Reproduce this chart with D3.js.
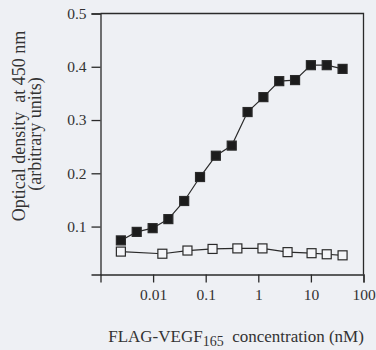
<!DOCTYPE html>
<html>
<head>
<meta charset="utf-8">
<script src="https://cdn.jsdelivr.net/npm/d3@7"></script>
<style>
    html, body { margin: 0; padding: 0; background: #eef0f4; }
    svg { display: block; }
    text { font-family: "Liberation Serif", "DejaVu Serif", serif; fill: #333; }
</style>
</head>
<body>
<div id="chart"></div>
<script>
// filled squares (FLAG-VEGF165 binding)
const boundConc = [0.00244, 0.00488, 0.0098, 0.0195, 0.039, 0.078, 0.156, 0.3125, 0.625, 1.25, 2.5, 5, 10, 20, 40];
const boundOD = [0.074, 0.090, 0.097, 0.114, 0.148, 0.193, 0.233, 0.252, 0.315, 0.343, 0.373, 0.375, 0.403, 0.403, 0.396];

// open squares (control)
const controlConc = [0.00244, 0.015, 0.045, 0.135, 0.4, 1.2, 3.6, 10.3, 20, 40];
const controlOD = [0.053, 0.049, 0.055, 0.058, 0.059, 0.059, 0.052, 0.050, 0.048, 0.046];

const xTicks = [0.01, 0.1, 1, 10, 100];
const xTickLabels = ['0.01', '0.1', '1', '10', '100'];
const yTicks = [0.1, 0.2, 0.3, 0.4, 0.5];

const width = 376;
const height = 350;
const margin = { top: 13.5, right: 12.5, bottom: 75.5, left: 100.5 };
const ink = '#2a2a2a';

const svg = d3.select('#chart')
    .append('svg')
    .attr('width', width)
    .attr('height', height);

const x = d3.scaleLog()
    .domain([0.001, 100])
    .range([margin.left, width - margin.right]);

const y = d3.scaleLinear()
    .domain([0.01, 0.5])
    .range([height - margin.bottom, margin.top]);

// frame (top and right)
svg.append('path')
    .attr('d', `M${x.range()[0]},${y.range()[1]}H${x.range()[1]}V${y.range()[0]}`)
    .attr('fill', 'none')
    .attr('stroke', ink)
    .attr('stroke-width', 1.3);

// x axis
const xAxis = svg.append('g')
    .attr('transform', `translate(0,${y.range()[0]})`)
    .call(d3.axisBottom(x)
        .tickValues(xTicks)
        .tickFormat((d, i) => xTickLabels[i])
        .tickSizeOuter(0)
        .tickSize(8)
        .tickPadding(6));

// y axis
const yAxis = svg.append('g')
    .attr('transform', `translate(${x.range()[0]},0)`)
    .call(d3.axisLeft(y)
        .tickValues(yTicks)
        .tickFormat(d3.format('.1f'))
        .tickSizeOuter(0)
        .tickSize(9)
        .tickPadding(5));

[xAxis, yAxis].forEach((g) => {
    g.select('.domain').attr('stroke', ink).attr('stroke-width', 1.3);
    g.selectAll('.tick line').attr('stroke', ink).attr('stroke-width', 1.3);
    g.selectAll('.tick text')
        .attr('fill', '#333')
        .style('font-family', '"Liberation Serif", serif')
        .style('font-size', '15.5px');
});

// lines
const line = d3.line()
    .x((d) => x(d[0]))
    .y((d) => y(d[1]));

const bound = d3.zip(boundConc, boundOD);
const control = d3.zip(controlConc, controlOD);

svg.append('path')
    .datum(control)
    .attr('d', line)
    .attr('fill', 'none')
    .attr('stroke', ink)
    .attr('stroke-width', 1.2);

svg.append('path')
    .datum(bound)
    .attr('d', line)
    .attr('fill', 'none')
    .attr('stroke', ink)
    .attr('stroke-width', 1.2);

const s = 9;

svg.append('g')
    .selectAll('rect')
    .data(control)
    .enter()
    .append('rect')
    .attr('x', (d) => x(d[0]) - s / 2)
    .attr('y', (d) => y(d[1]) - s / 2)
    .attr('width', s)
    .attr('height', s)
    .attr('fill', '#f4f5f8')
    .attr('stroke', ink)
    .attr('stroke-width', 1.2);

svg.append('g')
    .selectAll('rect')
    .data(bound)
    .enter()
    .append('rect')
    .attr('x', (d) => x(d[0]) - s / 2)
    .attr('y', (d) => y(d[1]) - s / 2)
    .attr('width', s)
    .attr('height', s)
    .attr('fill', '#1c1c1c')
    .attr('stroke', ink)
    .attr('stroke-width', 1.2);

// y axis title
svg.append('text')
    .attr('transform', 'translate(25,126) rotate(-90)')
    .attr('text-anchor', 'middle')
    .style('font-size', '18px')
    .text('Optical density\u00a0 at 450 nm');
svg.append('text')
    .attr('transform', 'translate(41,134) rotate(-90)')
    .attr('text-anchor', 'middle')
    .style('font-size', '18px')
    .text('(arbitrary units)');

// x axis title
const xTitle = svg.append('text')
    .attr('x', 236)
    .attr('y', 342)
    .attr('text-anchor', 'middle')
    .style('font-size', '17px');
xTitle.append('tspan').text('FLAG-VEGF');
xTitle.append('tspan').attr('dy', 3.5).style('font-size', '14px').text('165');
xTitle.append('tspan').attr('dy', -3.5).text('\u00a0 concentration (nM)');
</script>
</body>
</html>
